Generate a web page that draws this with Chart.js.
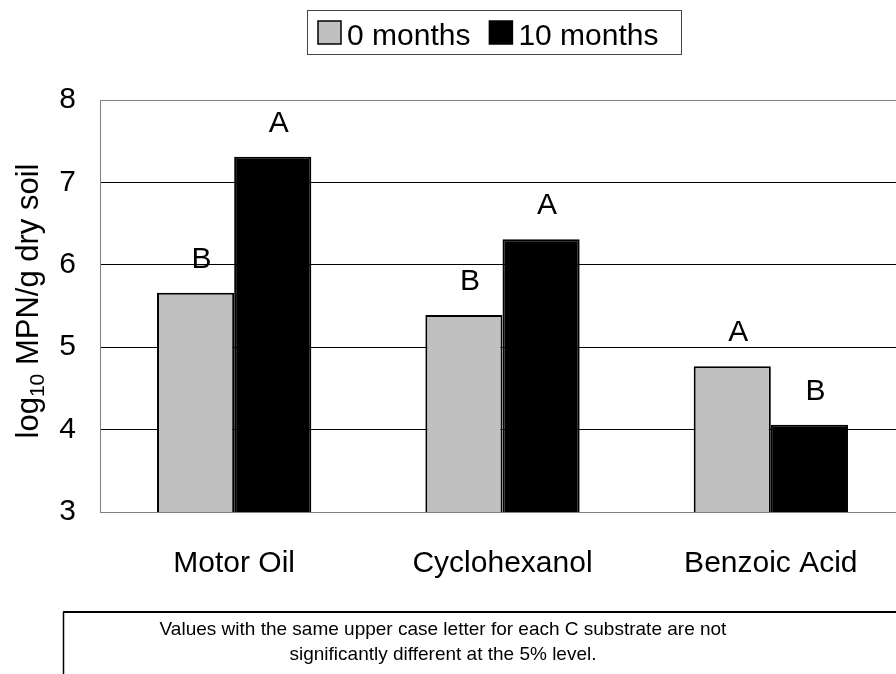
<!DOCTYPE html>
<html>
<head>
<meta charset="utf-8">
<script src="https://cdn.jsdelivr.net/npm/chart.js@4.4.1/dist/chart.umd.min.js"></script>
<style>
  body { margin: 0; background: #fff; overflow: hidden; }
  #wrap { width: 905px; height: 674px; }
</style>
</head>
<body>
<div id="wrap"><canvas id="soilChart" width="905" height="674"></canvas></div>
<script>
"use strict";

// data
const substrates = ["Motor Oil", "Cyclohexanol", "Benzoic Acid"];
const months0 = [5.66, 5.39, 4.77];
const months10 = [7.31, 6.31, 4.06];
const letters0 = ["B", "B", "A"];
const letters10 = ["A", "A", "B"];
const seriesNames = ["0 months", "10 months"];
const yMin = 3;
const yMax = 8;
const footnote = [
    "Values with the same upper case letter for each C substrate are not",
    "significantly different at the 5% level."
];

const FONT = "'Liberation Sans', Arial, sans-serif";
Chart.defaults.font.family = FONT;
Chart.defaults.color = "#000";

// bokstäver över staplarna
const letterPlugin = {
    id: "letters",
    afterDatasetsDraw(chart) {
        const ctx = chart.ctx;
        const sets = [letters0, letters10];
        ctx.save();
        ctx.font = "30px " + FONT;
        ctx.fillStyle = "#000";
        ctx.textAlign = "center";
        ctx.textBaseline = "alphabetic";
        chart.data.datasets.forEach((ds, i) => {
            chart.getDatasetMeta(i).data.forEach((bar, j) => {
                ctx.fillText(sets[i][j], bar.x + 6, bar.y - 25);
            });
        });
        ctx.restore();
    }
};

// legend med ram
const legendPlugin = {
    id: "boxLegend",
    afterDraw(chart) {
        const ctx = chart.ctx;
        ctx.save();
        ctx.strokeStyle = "#444";
        ctx.lineWidth = 1;
        ctx.strokeRect(307.5, 10.5, 374, 44);
        ctx.font = "30px " + FONT;
        ctx.textBaseline = "alphabetic";
        let x = 318;
        chart.data.datasets.forEach((ds, i) => {
            ctx.fillStyle = ds.backgroundColor;
            ctx.fillRect(x, 21, 23, 23);
            ctx.strokeStyle = "#000";
            ctx.lineWidth = 1.5;
            ctx.strokeRect(x, 21, 23, 23);
            x += 29;
            ctx.fillStyle = "#000";
            ctx.fillText(ds.label, x, 45);
            x += ctx.measureText(ds.label).width + 19;
        });
        ctx.restore();
    }
};

// y-axelns titel med nedsänkt 10
const yTitlePlugin = {
    id: "yTitle",
    afterDraw(chart) {
        const ctx = chart.ctx;
        ctx.save();
        ctx.translate(38, 301);
        ctx.rotate(-Math.PI / 2);
        ctx.fillStyle = "#000";
        ctx.textBaseline = "alphabetic";
        const big = "31px " + FONT;
        const small = "21px " + FONT;
        ctx.font = big;
        const w1 = ctx.measureText("log").width;
        const w3 = ctx.measureText(" MPN/g dry soil").width;
        ctx.font = small;
        const w2 = ctx.measureText("10").width;
        let x = -(w1 + w2 + w3) / 2;
        ctx.font = big;
        ctx.fillText("log", x, 0);
        x += w1;
        ctx.font = small;
        ctx.fillText("10", x, 6);
        x += w2;
        ctx.font = big;
        ctx.fillText(" MPN/g dry soil", x, 0);
        ctx.restore();
    }
};

// fotnot i ruta
const footnotePlugin = {
    id: "footnote",
    afterDraw(chart) {
        const ctx = chart.ctx;
        ctx.save();
        ctx.strokeStyle = "#000";
        ctx.lineWidth = 2;
        ctx.beginPath();
        ctx.moveTo(63, 612);
        ctx.lineTo(chart.width, 612);
        ctx.stroke();
        ctx.lineWidth = 1.5;
        ctx.beginPath();
        ctx.moveTo(63.5, 612);
        ctx.lineTo(63.5, chart.height);
        ctx.stroke();
        ctx.font = "19px " + FONT;
        ctx.fillStyle = "#000";
        ctx.textAlign = "center";
        ctx.fillText(footnote[0], 443, 635);
        ctx.fillText(footnote[1], 443, 660);
        ctx.restore();
    }
};

new Chart(document.getElementById("soilChart"), {
    type: "bar",
    data: {
        labels: substrates,
        datasets: [
            {
                label: seriesNames[0],
                data: months0,
                backgroundColor: "#c0c0c0",
                borderColor: "#000",
                borderWidth: 2
            },
            {
                label: seriesNames[1],
                data: months10,
                backgroundColor: "#000",
                borderColor: "#000",
                borderWidth: 2
            }
        ]
    },
    options: {
        responsive: false,
        animation: false,
        layout: { padding: { top: 100, left: 0, right: 0, bottom: 0 } },
        datasets: { bar: { categoryPercentage: 0.575, barPercentage: 1 } },
        plugins: {
            legend: { display: false },
            tooltip: { enabled: false }
        },
        scales: {
            x: {
                grid: { display: false },
                border: { display: true, color: "#808080", width: 1 },
                ticks: { font: { size: 30 }, color: "#000", padding: 26 },
                afterFit(scale) { scale.height = 162; }
            },
            y: {
                min: yMin,
                max: yMax,
                ticks: { stepSize: 1, font: { size: 30 }, color: "#000", padding: 24 },
                grid: {
                    drawTicks: false,
                    color: (c) => (c.tick && (c.tick.value === yMin || c.tick.value === yMax)) ? "#808080" : "#000",
                    lineWidth: 1
                },
                border: { display: true, color: "#808080", width: 1 },
                afterFit(scale) { scale.width = 100; }
            }
        }
    },
    plugins: [letterPlugin, legendPlugin, yTitlePlugin, footnotePlugin]
});
</script>
</body>
</html>
